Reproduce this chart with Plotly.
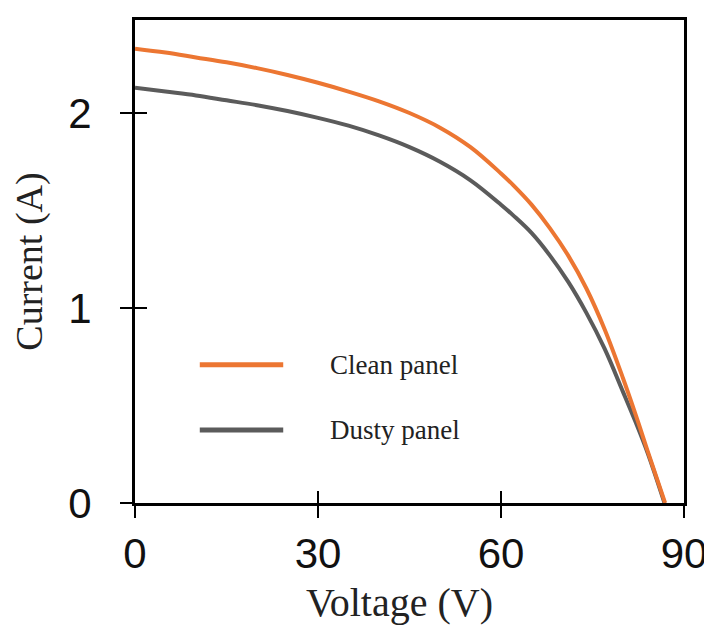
import plotly.graph_objects as go

clean_voltage = [0, 5, 10, 15, 20, 25, 30, 35, 40, 45, 50, 55, 60, 62, 65, 68, 71, 74, 77, 80, 82, 84, 86.9]
clean_current = [2.33, 2.31, 2.285, 2.26, 2.23, 2.195, 2.155, 2.11, 2.06, 2.00, 1.925, 1.825, 1.69, 1.63,
                 1.53, 1.41, 1.27, 1.10, 0.89, 0.64, 0.46, 0.27, 0.0]
dusty_voltage = [0, 5, 10, 15, 20, 25, 30, 35, 40, 45, 50, 55, 60, 62, 65, 68, 71, 74, 77, 80, 82, 84, 86.8]
dusty_current = [2.13, 2.11, 2.09, 2.065, 2.04, 2.01, 1.975, 1.935, 1.885, 1.825, 1.75, 1.655, 1.53, 1.475,
                 1.385, 1.27, 1.135, 0.975, 0.79, 0.57, 0.42, 0.26, 0.0]
x_ticks = [0, 30, 60, 90]
y_ticks = [0, 1, 2]
series_names = ["Clean panel", "Dusty panel"]
series_colors = ["#EC7632", "#5B5B5B"]

fig = go.Figure()
# dusty drawn first so the clean curve lies on top where they merge
for name, xs, ys, col in reversed(list(zip(series_names, [clean_voltage, dusty_voltage],
                                           [clean_current, dusty_current], series_colors))):
    fig.add_trace(go.Scatter(x=xs, y=ys, mode="lines", name=name,
                             line=dict(color=col, width=4, shape="spline", smoothing=1.0),
                             showlegend=False))

# invisible traces anchoring the overlay axes
fig.add_trace(go.Scatter(x=[None], y=[None], xaxis="x2", yaxis="y2", showlegend=False))
fig.add_trace(go.Scatter(x=[None], y=[None], xaxis="x2", yaxis="y3", showlegend=False))

tick_font = dict(family="Liberation Sans, Arial, sans-serif", size=42, color="#111")
xtitle_font = dict(family="Liberation Serif, Times New Roman, serif", size=40, color="#222")
ytitle_font = dict(family="Liberation Serif, Times New Roman, serif", size=38, color="#222")

x_range = [0, 90]
y_range = [0, 2.477]

fig.update_layout(
    width=704, height=617,
    margin=dict(l=127, r=28, t=12, b=122),
    paper_bgcolor="white", plot_bgcolor="white",
    xaxis=dict(range=x_range, tickvals=x_ticks, ticks="outside", ticklen=12, tickwidth=2,
               tickcolor="black", showline=True, linecolor="black", linewidth=3, mirror=True,
               showgrid=False, zeroline=False, tickfont=tick_font, automargin=False,
               title=dict(text="Voltage (V)&nbsp;&nbsp;", font=xtitle_font, standoff=16)),
    yaxis=dict(range=y_range, tickvals=y_ticks, ticks="outside", ticklen=12, tickwidth=2,
               tickcolor="black", showline=True, linecolor="black", linewidth=3, mirror=True,
               showgrid=False, zeroline=False, showticklabels=False, automargin=False),
    # inside half of the crossing ticks
    xaxis2=dict(range=x_range, tickvals=x_ticks, ticks="inside", ticklen=12, tickwidth=2,
                tickcolor="black", showticklabels=False, overlaying="x", showgrid=False,
                zeroline=False, showline=False),
    yaxis2=dict(range=y_range, tickvals=y_ticks, ticks="inside", ticklen=12, tickwidth=2,
                tickcolor="black", showticklabels=False, overlaying="y", showgrid=False,
                zeroline=False, showline=False),
    # y tick labels placed further from the axis
    yaxis3=dict(range=y_range, tickvals=y_ticks, ticks="outside", ticklen=34, tickwidth=1,
                tickcolor="rgba(0,0,0,0)", showticklabels=True, overlaying="y", side="left",
                showgrid=False, zeroline=False, showline=False, tickfont=tick_font,
                automargin=False,
                title=dict(text="Current (A)", font=ytitle_font, standoff=14)),
)

# legend drawn as swatches + labels inside the plot area
legend_font = dict(family="Liberation Serif, Times New Roman, serif", size=27, color="#222")
for i, (name, col) in enumerate(zip(series_names, series_colors)):
    yy = 0.286 - i * 0.135
    fig.add_shape(type="line", xref="paper", yref="paper", x0=0.118, x1=0.27, y0=yy, y1=yy,
                  line=dict(color=col, width=5))
    fig.add_annotation(xref="paper", yref="paper", x=0.352, y=yy, text=name, showarrow=False,
                       xanchor="left", yanchor="middle", font=legend_font)

fig.write_html("out.html")
